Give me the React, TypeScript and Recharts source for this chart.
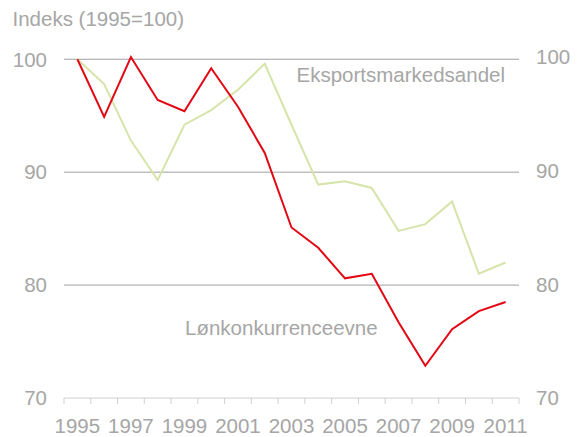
import React from 'react';
import { LineChart, Line, XAxis, YAxis, CartesianGrid } from 'recharts';

const years = ['1995','1996','1997','1998','1999','2000','2001','2002','2003','2004','2005','2006','2007','2008','2009','2010','2011'];
const lonkonkurrenceevne = [100, 94.9, 100.2, 96.4, 95.4, 99.2, 95.8, 91.7, 85.1, 83.3, 80.6, 81.0, 76.7, 72.85, 76.1, 77.7, 78.5];
const eksportsmarkedsandel = [100, 97.8, 92.8, 89.3, 94.2, 95.5, 97.3, 99.6, 94.2, 88.9, 89.2, 88.6, 84.8, 85.4, 87.4, 81.0, 82.0];
const yTicks = [70, 80, 90, 100];
const xLabelTicks = ['1995','1997','1999','2001','2003','2005','2007','2009','2011'];

const data = years.map((y, i) => ({ year: y, lon: lonkonkurrenceevne[i], eks: eksportsmarkedsandel[i] }));

const FONT = '"Liberation Sans", Arial, sans-serif';
const TEXT = '#a6a6a6';
const AXIS = '#d0d0d0';
const FS = 20.5;

const XTick = (props: any) => {
  const { x, y, payload } = props;
  const half = payload && payload.offset ? payload.offset : 13.37;
  const isLast = payload && payload.index === years.length - 1;
  const showLabel = xLabelTicks.includes(String(payload.value));
  return (
    <g>
      <line x1={x - half} x2={x - half} y1={y} y2={y + 6} stroke={AXIS} strokeWidth={1} />
      {isLast && <line x1={x + half} x2={x + half} y1={y} y2={y + 6} stroke={AXIS} strokeWidth={1} />}
      {showLabel && (
        <text x={x} y={y + 35} textAnchor="middle" fill={TEXT} fontSize={FS} fontFamily={FONT}>
          {payload.value}
        </text>
      )}
    </g>
  );
};

export default function App() {
  return (
    <div style={{ position: 'absolute', left: 0, top: 0, width: 581, height: 437 }}>
      <LineChart width={581} height={437} data={data} margin={{ top: 57, right: 0, bottom: 0, left: 0 }}>
        <CartesianGrid vertical={false} horizontalValues={[80, 90, 100]} stroke="#a0a0a0" strokeWidth={1} yAxisId="left" />
        <XAxis
          dataKey="year"
          scale="band"
          height={39}
          interval={0}
          axisLine={{ stroke: AXIS }}
          tickLine={false}
          tickSize={0}
          tickMargin={0}
          tick={<XTick />}
        />
        <YAxis
          yAxisId="left"
          domain={[70, 100]}
          ticks={yTicks}
          width={64}
          axisLine={false}
          tickLine={false}
          tickSize={0}
          tickMargin={17}
          tick={{ fill: TEXT, fontSize: FS, fontFamily: FONT }}
        />
        <YAxis
          yAxisId="right"
          orientation="right"
          domain={[70, 100]}
          allowDataOverflow
          ticks={yTicks}
          width={62}
          axisLine={false}
          tickLine={false}
          tickSize={0}
          tickMargin={17}
          tick={{ fill: TEXT, fontSize: FS, fontFamily: FONT }}
        />
        <Line yAxisId="left" type="linear" dataKey="eks" stroke="#d6e4aa" strokeWidth={2} dot={false} isAnimationActive={false} />
        <Line yAxisId="left" type="linear" dataKey="lon" stroke="#e30613" strokeWidth={2} dot={false} isAnimationActive={false} />
      </LineChart>
      <svg width={581} height={437} style={{ position: 'absolute', left: 0, top: 0, pointerEvents: 'none' }}>
        <text x={12.5} y={26} fill={TEXT} fontSize={FS} fontFamily={FONT}>Indeks (1995=100)</text>
        <text x={296.5} y={82} fill={TEXT} fontSize={FS} fontFamily={FONT}>Eksportsmarkedsandel</text>
        <text x={185} y={335} fill={TEXT} fontSize={FS} fontFamily={FONT}>Lønkonkurrenceevne</text>
      </svg>
    </div>
  );
}
